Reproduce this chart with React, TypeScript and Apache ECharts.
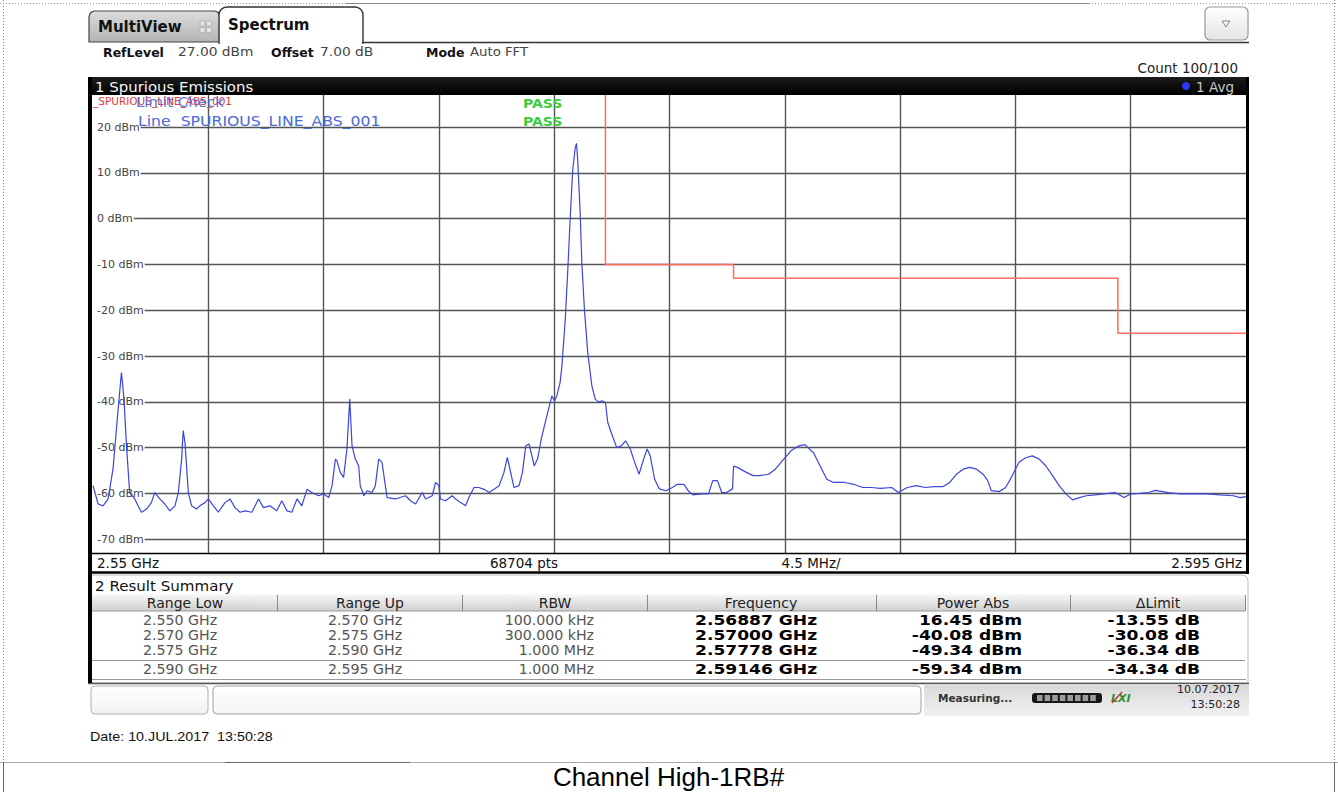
import React, { useEffect, useRef } from "react";
import * as echarts from "echarts";

// ---------------- data ----------------
const levelTicksDbm = [-70, -60, -50, -40, -30, -20, -10, 0, 10, 20];
const freqGridMHz = [2554.5, 2559, 2563.5, 2568, 2572.5, 2577, 2581.5, 2586, 2590.5];
const freqSpanMHz = [2550, 2595];
const levelSpanDbm = [-73, 27];

const limitLine: [number, number][] = [
  [2570, 30], [2570, -10], [2575, -10], [2575, -13], [2590, -13], [2590, -25], [2595, -25],
];

const spectrumTrace: [number, number][] = [
  [2550.0, -58.3], [2550.2, -62.3], [2550.39, -62.7], [2550.59, -61.2], [2550.78, -54.7], [2550.98, -41.6],
  [2551.11, -33.6], [2551.21, -39.4], [2551.3, -48.9], [2551.43, -59.8], [2551.63, -61.2], [2551.76, -62.7],
  [2551.89, -64.1], [2552.09, -63.4], [2552.28, -62], [2552.41, -59.8], [2552.61, -61.2], [2552.8, -62.3],
  [2553.0, -63.8], [2553.2, -62.7], [2553.33, -59.8], [2553.46, -52.5], [2553.52, -46.3], [2553.59, -48.9],
  [2553.72, -59.8], [2553.85, -62.7], [2554.04, -63.4], [2554.17, -62.7], [2554.37, -62], [2554.5, -61.2],
  [2554.7, -62.7], [2554.89, -64.1], [2555.15, -62], [2555.35, -61.2], [2555.54, -63.1], [2555.74, -64.1],
  [2555.93, -63.8], [2556.2, -64.1], [2556.46, -61.2], [2556.65, -63.1], [2556.91, -62.7], [2557.17, -63.8],
  [2557.37, -61.6], [2557.57, -63.8], [2557.76, -64.1], [2557.96, -61.2], [2558.15, -62.7], [2558.35, -59.1],
  [2558.54, -59.8], [2558.8, -60.5], [2559.0, -60.1], [2559.2, -60.9], [2559.33, -58.3], [2559.46, -52.5],
  [2559.52, -52.9], [2559.65, -55.4], [2559.78, -56.5], [2559.91, -50.3], [2560.02, -39.4], [2560.11, -49.6],
  [2560.24, -52.5], [2560.37, -54], [2560.43, -58.3], [2560.57, -60.5], [2560.7, -59.4], [2560.89, -59.8],
  [2561.02, -58.3], [2561.15, -52.5], [2561.28, -53.2], [2561.41, -58.3], [2561.48, -60.9], [2561.8, -61.2],
  [2562.2, -60.5], [2562.39, -61.6], [2562.59, -62.3], [2562.85, -59.8], [2562.98, -61.2], [2563.24, -60.5],
  [2563.37, -57.6], [2563.5, -58.3], [2563.56, -61.2], [2563.76, -61.6], [2564.02, -60.5], [2564.15, -61.2],
  [2564.35, -62], [2564.54, -62.7], [2564.67, -60.9], [2564.87, -58.7], [2565.06, -58.7], [2565.26, -59.1],
  [2565.46, -59.8], [2565.65, -59.1], [2565.85, -58.3], [2566.04, -55.4], [2566.17, -52.1], [2566.3, -55.4],
  [2566.43, -58.7], [2566.63, -58.3], [2566.76, -55.4], [2566.89, -49.6], [2567.02, -49.2], [2567.22, -54],
  [2567.35, -52.5], [2567.5, -48.0], [2567.62, -45.2], [2567.78, -41.6], [2567.91, -38.7], [2568.01, -39.8],
  [2568.1, -38.7], [2568.23, -35.8], [2568.3, -32.2], [2568.43, -22.1], [2568.53, -11.3], [2568.62, -0.4],
  [2568.72, 10.4], [2568.82, 15.5], [2568.87, 16.45], [2568.92, 12.6], [2569.01, 1.7], [2569.08, -9.8],
  [2569.18, -19.9], [2569.31, -29.3], [2569.47, -36.5], [2569.6, -39.4], [2569.73, -40.0], [2569.89, -39.8],
  [2570.0, -40.08], [2570.09, -44.5], [2570.27, -47.4], [2570.44, -50], [2570.62, -49.6], [2570.79, -48.5],
  [2570.97, -50.3], [2571.14, -53.2], [2571.31, -55.8], [2571.49, -52.5], [2571.63, -50.3], [2571.75, -51.8],
  [2571.92, -56.9], [2572.1, -59], [2572.36, -59.4], [2572.62, -58.7], [2572.8, -58], [2573.06, -58],
  [2573.23, -59.4], [2573.41, -60.3], [2573.76, -60.1], [2574.02, -60.1], [2574.19, -57.2], [2574.37, -57.2],
  [2574.54, -59.8], [2574.72, -59.8], [2574.96, -59], [2575.0, -54], [2575.15, -54.3], [2575.5, -55.4],
  [2575.76, -56.1], [2576.02, -56.1], [2576.37, -55.8], [2576.63, -54.7], [2576.9, -52.9], [2577.24, -50.7],
  [2577.55, -49.6], [2577.78, -49.34], [2578.12, -51.1], [2578.38, -54], [2578.64, -56.9], [2578.9, -57.6],
  [2579.34, -57.6], [2579.69, -58], [2580.04, -58.7], [2580.38, -58.7], [2580.73, -58.9], [2581.17, -58.7],
  [2581.43, -59.8], [2581.78, -58.7], [2582.13, -58.3], [2582.48, -58.7], [2582.83, -58.5], [2583.18, -58.5],
  [2583.44, -57.6], [2583.7, -55.8], [2583.96, -54.7], [2584.22, -54.3], [2584.48, -54.7], [2584.74, -55.8],
  [2584.92, -57.2], [2585.06, -59.4], [2585.36, -59.6], [2585.62, -58.7], [2585.88, -56.1], [2586.14, -53.2],
  [2586.4, -52.2], [2586.66, -51.8], [2586.93, -52.5], [2587.19, -54], [2587.45, -56.1], [2587.71, -58.3],
  [2587.97, -60.1], [2588.23, -61.4], [2588.5, -60.9], [2588.76, -60.5], [2589.11, -60.3], [2589.45, -60.1],
  [2589.89, -59.8], [2590.24, -60.9], [2590.5, -60.1], [2590.85, -60], [2591.2, -59.8], [2591.46, -59.34],
  [2591.98, -59.8], [2592.42, -60.1], [2592.94, -60.1], [2593.47, -60.1], [2593.99, -60.3], [2594.51, -60.5],
  [2594.77, -60.9], [2595.0, -60.7],
];

const summaryHeaders = ["Range Low", "Range Up", "RBW", "Frequency", "Power Abs", "ΔLimit"];
const rangeLow = ["2.550 GHz", "2.570 GHz", "2.575 GHz", "2.590 GHz"];
const rangeUp = ["2.570 GHz", "2.575 GHz", "2.590 GHz", "2.595 GHz"];
const rbw = ["100.000 kHz", "300.000 kHz", "1.000 MHz", "1.000 MHz"];
const peakFreq = ["2.56887 GHz", "2.57000 GHz", "2.57778 GHz", "2.59146 GHz"];
const powerAbs = ["16.45 dBm", "-40.08 dBm", "-49.34 dBm", "-59.34 dBm"];
const deltaLimit = ["-13.55 dB", "-30.08 dB", "-36.34 dB", "-34.34 dB"];

// ---------------- layout helpers ----------------
const UI = "'DejaVu Sans', Verdana, sans-serif";
const ARIAL = "'Liberation Sans', Arial, sans-serif";

type O = { [k: string]: any };
const txt = (text: string, x: number, y: number, o: O = {}) => ({
  type: "text",
  x,
  y,
  scaleX: o.sx ?? 1,
  z: o.z ?? 20,
  silent: true,
  style: {
    text,
    fill: o.fill ?? "#222",
    fontSize: o.size ?? 13,
    fontFamily: o.family ?? UI,
    fontWeight: o.weight ?? "normal",
    fontStyle: o.style ?? "normal",
    textAlign: o.align ?? "left",
    textVerticalAlign: "middle",
  },
});
const rect = (x: number, y: number, w: number, h: number, o: O = {}) => ({
  type: "rect",
  z: o.z ?? 5,
  silent: true,
  shape: { x, y, width: w, height: h, r: o.r ?? 0 },
  style: { fill: o.fill ?? "none", stroke: o.stroke ?? null, lineWidth: o.lw ?? 1 },
});
const line = (x1: number, y1: number, x2: number, y2: number, o: O = {}) => ({
  type: "line",
  z: o.z ?? 6,
  silent: true,
  shape: { x1, y1, x2, y2 },
  style: { stroke: o.stroke ?? "#000", lineWidth: o.lw ?? 1, lineDash: o.dash ?? null },
});
const vgrad = (a: string, b: string) =>
  new echarts.graphic.LinearGradient(0, 0, 0, 1, [
    { offset: 0, color: a },
    { offset: 1, color: b },
  ]);

function buildGraphics() {
  const g: any[] = [];
  // page frame
  g.push(line(3.5, 0, 3.5, 762, { stroke: "#8a8a8a", dash: [1, 2] }));
  g.push(line(1334.5, 0, 1334.5, 762, { stroke: "#8a8a8a", dash: [1, 2] }));
  g.push(line(0, 3.5, 1338, 3.5, { stroke: "#9a9a9a", dash: [1, 2] }));
  g.push(line(345, 3.5, 1090, 3.5, { stroke: "#8a8a8a", lw: 1 }));
  g.push(line(0, 762.5, 1338, 762.5, { stroke: "#aaa" }));
  g.push(line(225, 762.5, 410, 762.5, { stroke: "#666" }));
  g.push(line(3.5, 762, 3.5, 792, { stroke: "#666" }));
  g.push(line(1334.5, 762, 1334.5, 792, { stroke: "#666" }));

  // tabs
  g.push(rect(89, 11, 131, 31, { r: [6, 6, 0, 0], fill: vgrad("#dcdcdc", "#b4b4b4"), stroke: "#444", lw: 1.2 }));
  g.push(txt("MultiView", 98, 27, { size: 15, weight: "bold", fill: "#111" }));
  [[200, 21], [206.5, 21], [200, 27.5], [206.5, 27.5]].forEach(([x, y]) =>
    g.push(rect(x, y, 5, 5, { r: 1, fill: "#e6e6e6", stroke: "#aaa", lw: 0.8 }))
  );
  g.push(rect(219, 7, 144, 36, { r: [8, 8, 0, 0], fill: "#fff", stroke: "#333", lw: 1.4, z: 7 }));
  g.push(line(220, 43, 362, 43, { stroke: "#fff", lw: 2, z: 8 }));
  g.push(txt("Spectrum", 228, 25, { size: 15, weight: "bold", fill: "#111", z: 9 }));
  g.push(line(362, 42.5, 1249, 42.5, { stroke: "#333", lw: 1.4 }));
  g.push(rect(1205, 7, 43, 33, { r: 5, fill: vgrad("#ffffff", "#e4e4e4"), stroke: "#9a9a9a", lw: 1.2 }));
  g.push({
    type: "polygon",
    z: 9,
    silent: true,
    shape: { points: [[1222, 21], [1230, 21], [1226, 27]] },
    style: { fill: "none", stroke: "#888", lineWidth: 1 },
  });

  // info line
  g.push(txt("RefLevel", 103, 52, { size: 12.5, weight: "bold", fill: "#111" }));
  g.push(txt("27.00 dBm", 178, 52, { size: 13, fill: "#444", sx: 1.06 }));
  g.push(txt("Offset", 271, 52, { size: 12.5, weight: "bold", fill: "#111" }));
  g.push(txt("7.00 dB", 320, 52, { size: 13, fill: "#444", sx: 1.06 }));
  g.push(txt("Mode", 426, 52, { size: 12.5, weight: "bold", fill: "#111" }));
  g.push(txt("Auto FFT", 470, 52, { size: 13, fill: "#444", sx: 1.02 }));
  g.push(txt("Count 100/100", 1238, 68, { size: 13.5, fill: "#222", align: "right" }));

  // title bar + frame
  g.push(rect(88, 77, 1161, 18, { r: [4, 4, 0, 0], fill: vgrad("#1c1c1c", "#000"), z: 8 }));
  g.push(txt("1 Spurious Emissions", 95, 86.5, { size: 14.5, fill: "#f4f4f4", z: 9, sx: 1.03 }));
  g.push({ type: "circle", z: 9, silent: true, shape: { cx: 1186, cy: 86, r: 4 }, style: { fill: "#2a3af0" } });
  g.push(txt("1 Avg", 1234, 86.5, { size: 13.5, fill: "#c8c8c8", align: "right", z: 9 }));
  g.push(rect(88, 77, 4, 606, { fill: "#000", z: 8 }));
  g.push(rect(1246, 77, 3, 497, { fill: "#000", z: 8 }));
  g.push(line(90, 553.5, 1248, 553.5, { stroke: "#000", lw: 1.5, z: 8 }));
  g.push(line(88, 572.5, 1249, 572.5, { stroke: "#000", lw: 2.5, z: 8 }));

  // plot annotations
  g.push(txt("_SPURIOUS_LINE_ABS_001", 93, 101, { size: 10.5, fill: "#e23a3a", z: 10 }));
  g.push(txt("Limit Check", 136, 102, { size: 14, fill: "rgba(60,95,215,0.85)", z: 11, sx: 1.07 }));
  g.push(txt("Line  SPURIOUS_LINE_ABS_001", 138, 121.5, { size: 14, fill: "#4a6ad8", z: 11, sx: 1.12 }));
  g.push(txt("PASS", 523, 103, { size: 13, weight: "bold", fill: "#3ccc3c", z: 11, sx: 1.08 }));
  g.push(txt("PASS", 523, 121.5, { size: 13, weight: "bold", fill: "#3ccc3c", z: 11, sx: 1.08 }));

  // axis footer row
  g.push(txt("2.55 GHz", 97, 563, { size: 13.5, fill: "#111" }));
  g.push(txt("68704 pts", 524, 563, { size: 13.5, fill: "#111", align: "center" }));
  g.push(txt("4.5 MHz/", 811, 563, { size: 13.5, fill: "#111", align: "center" }));
  g.push(txt("2.595 GHz", 1242, 563, { size: 13.5, fill: "#111", align: "right" }));

  // result summary
  g.push(rect(91, 575, 1157, 108, { r: [0, 6, 0, 0], fill: "#fff", stroke: "#bbb", lw: 1, z: 2 }));
  g.push(txt("2 Result Summary", 95, 586, { size: 14.5, fill: "#111", sx: 1.04 }));
  g.push(rect(92, 594, 1153, 17, { fill: vgrad("#f8f8f8", "#cfcfcf"), z: 3 }));
  g.push(line(92, 611, 1245, 611, { stroke: "#999", z: 4 }));
  const seps = [277, 462, 647, 876, 1070, 1245];
  seps.forEach((x) => g.push(line(x + 0.5, 595, x + 0.5, 611, { stroke: "#888", z: 4 })));
  const centers = [185, 370, 555, 761, 973, 1158];
  summaryHeaders.forEach((h, i) => g.push(txt(h, centers[i], 603, { size: 14, fill: "#222", align: "center" })));
  const rowsY = [620, 635, 650, 669];
  rowsY.forEach((y, i) => {
    g.push(txt(rangeLow[i], 143, y, { size: 13.5, fill: "#555", sx: 1.05 }));
    g.push(txt(rangeUp[i], 328, y, { size: 13.5, fill: "#555", sx: 1.05 }));
    g.push(txt(rbw[i], 594, y, { size: 13.5, fill: "#555", align: "right", sx: 1.05 }));
    g.push(txt(peakFreq[i], 695, y, { size: 14.5, weight: "bold", fill: "#000", sx: 1.18 }));
    g.push(txt(powerAbs[i], 1022, y, { size: 14.5, weight: "bold", fill: "#000", align: "right", sx: 1.18 }));
    g.push(txt(deltaLimit[i], 1200, y, { size: 14.5, weight: "bold", fill: "#000", align: "right", sx: 1.18 }));
  });
  g.push(line(92, 660.5, 1245, 660.5, { stroke: "#999", z: 4 }));
  g.push(line(92, 679.5, 1246, 679.5, { stroke: "#999", z: 4 }));
  g.push(line(88, 683.5, 1249, 683.5, { stroke: "#555", lw: 1.5, z: 4 }));

  // status bar
  g.push(rect(91, 686, 117, 28, { r: 4, fill: vgrad("#ffffff", "#f2f2f2"), stroke: "#b0b0b0" }));
  g.push(rect(213, 686, 708, 28, { r: 4, fill: vgrad("#ffffff", "#f4f4f4"), stroke: "#a0a0a0" }));
  g.push(rect(924, 684, 325, 32, { fill: vgrad("#d8d8d8", "#f2f2f2") }));
  g.push(txt("Measuring...", 938, 698, { size: 10.5, weight: "bold", fill: "#333" }));
  g.push(rect(1032, 693, 70, 10, { r: 3, fill: "#161616", z: 7 }));
  for (let i = 0; i < 8; i++) g.push(rect(1037 + i * 7.6, 695, 5.6, 6, { fill: "#9c9c9c", z: 8 }));
  g.push(txt("LXI", 1111, 698, { size: 11, weight: "bold", style: "italic", fill: "#2f8f2f" }));
  g.push(line(1112, 703, 1122, 692, { stroke: "#c03030", lw: 1.2, z: 22 }));
  g.push(txt("10.07.2017", 1240, 689, { size: 11, fill: "#222", align: "right" }));
  g.push(txt("13:50:28", 1240, 704, { size: 11, fill: "#222", align: "right" }));

  // date + caption
  g.push(txt("Date: 10.JUL.2017  13:50:28", 90, 737, { size: 13, fill: "#111", family: ARIAL, sx: 1.1 }));
  g.push(txt("Channel High-1RB#", 668.5, 777, { size: 26, fill: "#000", family: ARIAL, align: "center" }));
  return g;
}

function buildOption() {
  const gridLines = [
    ...levelTicksDbm.map((v) => ({ yAxis: v })),
    ...freqGridMHz.map((v) => ({ xAxis: v })),
  ];
  return {
    animation: false,
    backgroundColor: "#ffffff",
    grid: { left: 93, top: 95, width: 1153, height: 458, containLabel: false },
    xAxis: {
      type: "value",
      min: freqSpanMHz[0],
      max: freqSpanMHz[1],
      axisLine: { show: false },
      axisTick: { show: false },
      axisLabel: { show: false },
      splitLine: { show: false },
    },
    yAxis: {
      type: "value",
      min: levelSpanDbm[0],
      max: levelSpanDbm[1],
      z: 3,
      axisLine: { show: false },
      axisTick: { show: false },
      splitLine: { show: false },
      axisLabel: {
        inside: true,
        customValues: levelTicksDbm,
        formatter: (v: number) => `${v} dBm`,
        color: "#444",
        fontSize: 11,
        fontFamily: UI,
        backgroundColor: "#ffffff",
        padding: [1, 1, 1, 4],
        margin: 0,
      },
    },
    series: [
      {
        type: "line",
        name: "Limit",
        z: 4,
        data: limitLine,
        symbol: "none",
        clip: true,
        silent: true,
        lineStyle: { color: "#ff6a5c", width: 1.5 },
      },
      {
        type: "line",
        name: "Trace 1 Avg",
        z: 5,
        data: spectrumTrace,
        symbol: "none",
        clip: true,
        silent: true,
        lineStyle: { color: "#3c46dc", width: 1.2 },
        markLine: {
          z: 1,
          silent: true,
          animation: false,
          symbol: ["none", "none"],
          label: { show: false },
          emphasis: { disabled: true },
          lineStyle: { color: "#555", width: 1.4, type: "solid" },
          data: gridLines,
        },
      },
    ],
    graphic: { elements: buildGraphics() },
  };
}

export default function App() {
  const ref = useRef<HTMLDivElement>(null);
  useEffect(() => {
    if (!ref.current) return;
    const chart = echarts.init(ref.current, undefined, { renderer: "svg" });
    chart.setOption(buildOption() as any);
    return () => chart.dispose();
  }, []);
  return (
    <div
      ref={ref}
      style={{ position: "absolute", left: 0, top: 0, width: 1338, height: 792, background: "#fff" }}
    />
  );
}
